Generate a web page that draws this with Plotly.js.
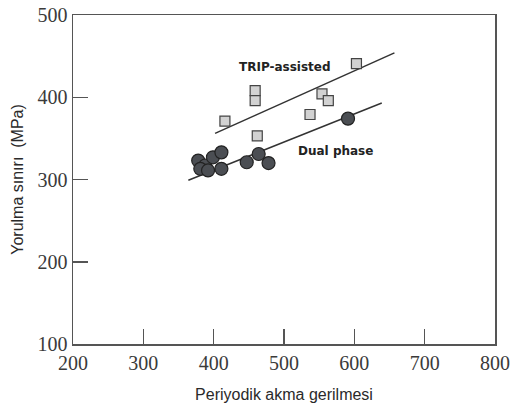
<!DOCTYPE html>
<html>
<head>
<meta charset="utf-8">
<script src="https://cdn.plot.ly/plotly-3.0.1.min.js"></script>
<style>html,body{margin:0;padding:0;background:#fff;}#chart{width:510px;height:408px;}</style>
</head>
<body>
<div id="chart"></div>
<script>
// TRIP-assisted steels (squares)
const tripX = [603, 459, 459, 554, 563, 537, 416, 462];
const tripY = [441, 408, 396, 404, 396, 379, 371, 353];
// Dual phase steels (circles)
const dualX = [378, 388, 381, 392, 399, 411, 411, 447, 464, 478, 591];
const dualY = [323, 317, 313, 311, 327, 333, 313, 321, 331, 320, 374];
// Trend lines
const tripLineX = [402, 657];
const tripLineY = [356, 454];
const dualLineX = [364, 639];
const dualLineY = [299, 393];
// Axis ticks
const xTicks = [200, 300, 400, 500, 600, 700, 800];
const yTicks = [100, 200, 300, 400, 500];

const traces = [
  {x: tripLineX, y: tripLineY, mode: 'lines', line: {color: '#333', width: 1.5}, hoverinfo: 'skip', showlegend: false},
  {x: dualLineX, y: dualLineY, mode: 'lines', line: {color: '#333', width: 1.5}, hoverinfo: 'skip', showlegend: false},
  {x: dualX, y: dualY, mode: 'markers', name: 'Dual phase',
   marker: {symbol: 'circle', size: 13, color: '#4b4e53', line: {color: '#222', width: 1.2}}, showlegend: false},
  {x: tripX, y: tripY, mode: 'markers', name: 'TRIP-assisted',
   marker: {symbol: 'square', size: 10, color: '#d2d2d2', line: {color: '#444', width: 1.2}}, showlegend: false}
];

const tickFont = {family: '"Liberation Serif", "Times New Roman", serif', size: 20, color: '#3a3a3a'};
const layout = {
  width: 510, height: 408,
  margin: {l: 73, r: 15, t: 15, b: 64},
  paper_bgcolor: '#fff', plot_bgcolor: '#fff',
  showlegend: false,
  xaxis: {
    range: [200, 800], tickvals: xTicks, ticktext: xTicks.map(String),
    ticks: 'inside', ticklen: 15, tickwidth: 1.5, tickcolor: '#555',
    showline: true, linecolor: '#555', linewidth: 1.5, mirror: true,
    showgrid: false, zeroline: false, tickfont: tickFont,
    title: {text: 'Periyodik akma gerilmesi', standoff: 16,
      font: {family: '"Liberation Sans", Arial, sans-serif', size: 16, color: '#2a2a2a'}}
  },
  yaxis: {
    range: [100, 500], tickvals: yTicks, ticktext: yTicks.map(String),
    ticks: 'inside', ticklen: 15, tickwidth: 1.5, tickcolor: '#555',
    showline: true, linecolor: '#555', linewidth: 1.5, mirror: true,
    showgrid: false, zeroline: false, tickfont: tickFont,
    title: {text: 'Yorulma sınırı  (MPa)', standoff: 10,
      font: {family: '"Liberation Sans", Arial, sans-serif', size: 16, color: '#2a2a2a'}}
  },
  annotations: [
    {x: 502, y: 437, xref: 'x', yref: 'y', text: '<b>TRIP-assisted</b>', showarrow: false,
     font: {family: '"DejaVu Sans", sans-serif', size: 12, color: '#222'}},
    {x: 573, y: 335, xref: 'x', yref: 'y', text: '<b>Dual phase</b>', showarrow: false,
     font: {family: '"DejaVu Sans", sans-serif', size: 12, color: '#222'}}
  ]
};
Plotly.newPlot('chart', traces, layout, {displayModeBar: false, staticPlot: true});
</script>
</body>
</html>
